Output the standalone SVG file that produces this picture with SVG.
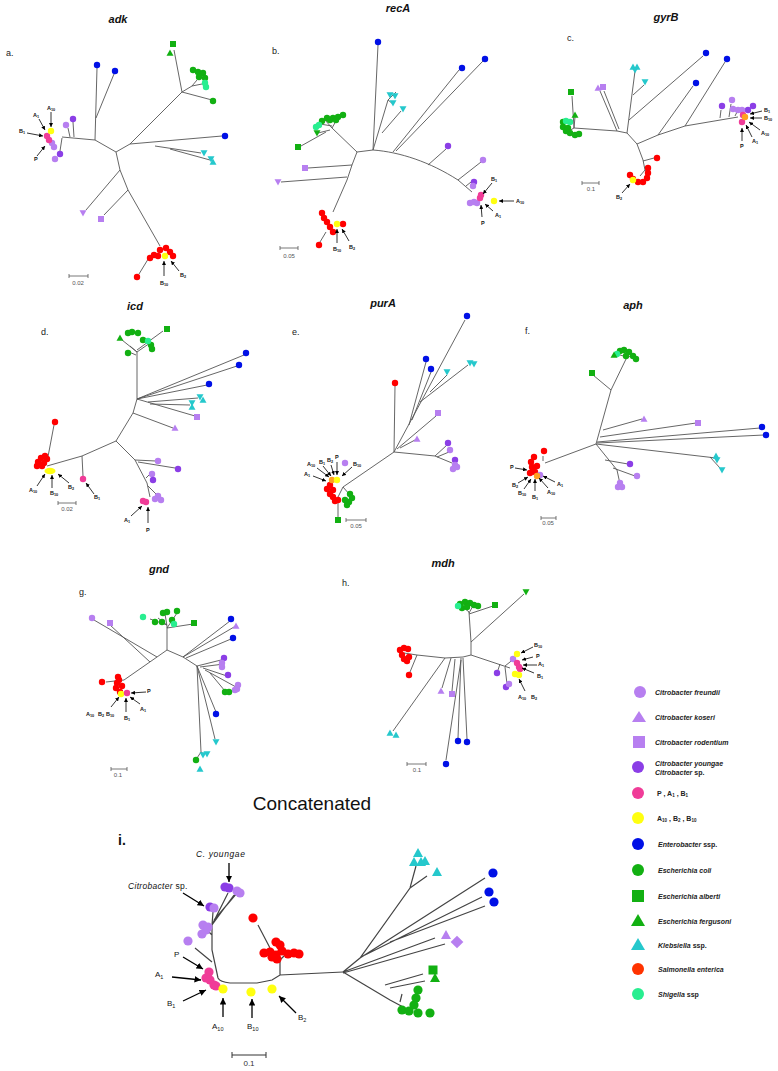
<svg xmlns="http://www.w3.org/2000/svg" width="778" height="1071" viewBox="0 0 778 1071">
<style>
text{font-family:"Liberation Sans",Arial,sans-serif;fill:#111}
.t{font-size:11px;font-weight:bold;font-style:italic;text-anchor:middle}
.pl{font-size:9px;fill:#222}
.l{font-size:5.5px;font-weight:bold}
.s{font-size:3.8px}
.sc{font-size:6px;fill:#555;text-anchor:middle}
.br{fill:none;stroke:#555;stroke-width:0.9}
.br2{fill:none;stroke:#444;stroke-width:1.2}
.ar{fill:none;stroke:#000;stroke-width:0.8;marker-end:url(#ah)}
.ar2{fill:none;stroke:#000;stroke-width:1.3;marker-end:url(#ah2)}
.bar{fill:none;stroke:#555;stroke-width:0.8}
.cf{fill:#b77ff0}.cy{fill:#8b3ee6}.pk{fill:#f03c98}.yl{fill:#ffff10}.en{fill:#0010e6}.ec{fill:#12b012}.kl{fill:#25c8cc}.sa{fill:#ff3300}.rd{fill:#ff0000}.sh{fill:#28ee90}.or{fill:#ffa020}
.lg{font-size:7px;font-weight:bold;font-style:italic;fill:#222}
.lgn{font-style:normal}
.il{font-size:8px}
.il .s{font-size:5.5px}
</style>
<defs>
<marker id="ah" viewBox="0 0 6 6" refX="6" refY="3" markerWidth="4" markerHeight="4" markerUnits="userSpaceOnUse" orient="auto"><path d="M0,0L6,3L0,6z" fill="#000"/></marker>
<marker id="ah2" viewBox="0 0 6 6" refX="6" refY="3" markerWidth="6.5" markerHeight="6.5" markerUnits="userSpaceOnUse" orient="auto"><path d="M0,0L6,3L0,6z" fill="#000"/></marker>
<circle id="o" r="3.2"/>
<circle id="O" r="4.6"/>
<path id="tr" d="M-3.5,2.8H3.5L0,-3.5z"/>
<path id="td" d="M-3.5,-2.8H3.5L0,3.5z"/>
<path id="TR" d="M-5,4H5L0,-5z"/>
<rect id="q" x="-3" y="-3" width="6" height="6"/>
<rect id="Q" x="-4.5" y="-4.5" width="9" height="9"/>
</defs>

<!-- Panel a -->
<g id="panel-a">
<text class="t" x="118" y="23">adk</text>
<text class="pl" x="6" y="56">a.</text>
<g id="a-branches" class="br">
<path d="M116,152L95,140L62,137M95,140L97,68M96,118L114,74M116,152L130,144L182,92L174,50M182,92L192,86L197,80M192,86L202,84M182,92L212,100M130,144L222,136M155,146L201,153M170,149L210,160M116,152L120,170L128,190L160,246M120,170L86,210M128,190L104,215M70,137L68,128M74,137L73,122M62,138L60,151M150,256L139,274"/>
</g>
<g id="a-tips">
<use href="#o" x="66" y="125" class="cf"/><use href="#o" x="55" y="159" class="cf"/><use href="#o" x="52" y="143" class="cf"/><use href="#o" x="54" y="147" class="cf"/>
<use href="#o" x="73" y="119" class="cy"/><use href="#o" x="60" y="154" class="cy"/>
<use href="#o" x="47" y="136" class="pk"/><use href="#o" x="49" y="140" class="pk"/><use href="#o" x="51" y="131" class="yl"/>
<use href="#o" x="97" y="65" class="en"/><use href="#o" x="115" y="71" class="en"/><use href="#o" x="225" y="136" class="en"/>
<use href="#o" x="193" y="70" class="ec"/><use href="#o" x="198" y="72" class="ec"/><use href="#o" x="203" y="73" class="ec"/><use href="#o" x="205" y="78" class="ec"/><use href="#o" x="199" y="77" class="ec"/><use href="#o" x="213" y="101" class="ec"/>
<use href="#o" x="206" y="87" class="sh"/><use href="#o" x="205" y="83" class="sh"/>
<use href="#q" x="173" y="44" class="ec"/><use href="#tr" x="170" y="53" class="ec"/>
<use href="#td" x="204" y="153" class="kl"/><use href="#tr" x="213" y="162" class="kl"/><use href="#td" x="211" y="159" class="kl"/>
<use href="#td" x="83" y="213" class="cf"/><use href="#q" x="101" y="219" class="cf"/>
<use href="#o" x="160" y="250" class="rd"/><use href="#o" x="154" y="255" class="rd"/><use href="#o" x="150" y="258" class="rd"/><use href="#o" x="166" y="248" class="rd"/><use href="#o" x="170" y="252" class="rd"/><use href="#o" x="173" y="256" class="rd"/><use href="#o" x="158" y="256" class="rd"/><use href="#o" x="137" y="277" class="rd"/>
<use href="#o" x="165" y="256" class="yl"/>
</g>
<g id="a-labels">
<text class="l" x="47" y="110">A<tspan class="s" dy="1.2">10</tspan></text>
<text class="l" x="33" y="117">A<tspan class="s" dy="1.2">1</tspan></text>
<text class="l" x="19" y="133">B<tspan class="s" dy="1.2">1</tspan></text>
<text class="l" x="34" y="161">P</text>
<text class="l" x="160" y="285">B<tspan class="s" dy="1.2">10</tspan></text>
<text class="l" x="180" y="277">B<tspan class="s" dy="1.2">2</tspan></text>
<path class="ar" d="M51,112L51,127"/><path class="ar" d="M39,119L45,130"/><path class="ar" d="M27,133L43,136"/><path class="ar" d="M37,156L45,146"/><path class="ar" d="M164,276L164,261"/><path class="ar" d="M179,271L171,261"/>
<path class="bar" d="M69,276H88M69,274V278M88,274V278"/>
<text class="sc" x="78" y="285">0.02</text>
</g>
</g>

<!-- Panel b -->
<g id="panel-b">
<text class="t" x="398" y="12">recA</text>
<text class="pl" x="272" y="54">b.</text>
<g id="b-branches" class="br">
<path d="M373,150L378,45M373,150L357,152L352,165L347,180L333,212M357,152L332,128M332,128L325,120M332,128L340,114M332,126L320,124M330,130L318,133M326,132L301,146M352,165L308,168M347,177L281,182M373,150L388,100L396,92M382,133L401,111M388,100L393,104M393,152L459,70M396,151L483,61M373,150C400,152 430,162 458,180L472,192M428,165L446,149M458,180L481,162M466,186L471,182M326,232L320,242"/>
</g>
<g id="b-tips">
<use href="#o" x="378" y="42" class="en"/><use href="#o" x="462" y="68" class="en"/><use href="#o" x="485" y="59" class="en"/>
<use href="#td" x="390" y="95" class="kl"/><use href="#td" x="395" y="96" class="kl"/><use href="#td" x="393" y="103" class="kl"/><use href="#td" x="403" y="109" class="kl"/>
<use href="#o" x="322" y="121" class="ec"/><use href="#o" x="327" y="118" class="ec"/><use href="#o" x="333" y="118" class="ec"/><use href="#o" x="338" y="117" class="ec"/><use href="#o" x="343" y="115" class="ec"/><use href="#o" x="330" y="120" class="ec"/><use href="#o" x="336" y="120" class="ec"/>
<use href="#o" x="319" y="125" class="sh"/><use href="#o" x="316" y="127" class="sh"/>
<use href="#td" x="317" y="133" class="ec"/><use href="#q" x="298" y="147" class="ec"/>
<use href="#q" x="305" y="168" class="cf"/><use href="#td" x="278" y="182" class="cf"/>
<use href="#o" x="448" y="146" class="cy"/><use href="#o" x="483" y="160" class="cf"/><use href="#o" x="474" y="182" class="cy"/><use href="#o" x="473" y="186" class="cf"/>
<use href="#o" x="470" y="203" class="cf"/><use href="#o" x="474" y="202" class="cf"/><use href="#o" x="477" y="203" class="cf"/>
<use href="#o" x="480" y="198" class="pk"/><use href="#o" x="481" y="195" class="pk"/><use href="#o" x="494" y="201" class="yl"/>
<use href="#o" x="322" y="213" class="rd"/><use href="#o" x="324" y="218" class="rd"/><use href="#o" x="327" y="222" class="rd"/><use href="#o" x="330" y="227" class="rd"/><use href="#o" x="333" y="232" class="rd"/><use href="#o" x="343" y="224" class="rd"/><use href="#o" x="319" y="245" class="rd"/>
<use href="#o" x="337" y="224" class="yl"/>
</g>
<g id="b-labels">
<text class="l" x="491" y="181">B<tspan class="s" dy="1.2">1</tspan></text>
<text class="l" x="516" y="203">A<tspan class="s" dy="1.2">10</tspan></text>
<text class="l" x="495" y="217">A<tspan class="s" dy="1.2">1</tspan></text>
<text class="l" x="481" y="225">P</text>
<text class="l" x="333" y="251">B<tspan class="s" dy="1.2">10</tspan></text>
<text class="l" x="349" y="249">B<tspan class="s" dy="1.2">2</tspan></text>
<path class="ar" d="M492,183L483,194"/><path class="ar" d="M514,201L499,201"/><path class="ar" d="M493,211L485,204"/><path class="ar" d="M482,217L481,205"/><path class="ar" d="M337,243L337,229"/><path class="ar" d="M349,241L342,229"/>
<path class="bar" d="M280,248H298M280,246V250M298,246V250"/>
<text class="sc" x="289" y="258">0.05</text>
</g>
</g>

<!-- Panel c -->
<g id="panel-c">
<text class="t" x="666" y="21">gyrB</text>
<text class="pl" x="567" y="41">c.</text>
<g id="c-branches" class="br">
<path d="M637,144L627,133L617,131L574,128M574,128L572,96M574,128L575,117M574,128L567,132M617,131L600,91M619,129L604,91M627,133L635,71M633,95L644,85M629,120L703,56M637,144L658,135L685,126L738,117M658,135L693,86M685,126L725,62M720,118L721,110M729,117L731,104M735,116L737,112M637,144L643,160L645,170M643,161L654,158M645,170L640,176M645,170L648,172"/>
</g>
<g id="c-tips">
<use href="#o" x="563" y="122" class="ec"/><use href="#o" x="563" y="127" class="ec"/><use href="#o" x="566" y="131" class="ec"/><use href="#o" x="570" y="133" class="ec"/><use href="#o" x="575" y="135" class="ec"/><use href="#o" x="579" y="134" class="ec"/><use href="#o" x="568" y="128" class="ec"/>
<use href="#o" x="570" y="122" class="sh"/><use href="#o" x="566" y="121" class="sh"/>
<use href="#tr" x="575" y="115" class="ec"/><use href="#q" x="571" y="92" class="ec"/>
<use href="#tr" x="598" y="88" class="cf"/><use href="#q" x="603" y="87" class="cf"/>
<use href="#tr" x="633" y="67" class="kl"/><use href="#tr" x="637" y="67" class="kl"/><use href="#td" x="635" y="70" class="kl"/><use href="#td" x="645" y="82" class="kl"/>
<use href="#o" x="706" y="53" class="en"/><use href="#o" x="696" y="83" class="en"/><use href="#o" x="727" y="59" class="en"/>
<use href="#o" x="722" y="106" class="cy"/><use href="#o" x="753" y="106" class="cy"/><use href="#o" x="748" y="110" class="cy"/>
<use href="#o" x="732" y="100" class="cf"/><use href="#o" x="733" y="109" class="cf"/><use href="#o" x="738" y="110" class="cf"/><use href="#o" x="742" y="110" class="cf"/>
<use href="#o" x="742" y="122" class="pk"/><use href="#o" x="743" y="115" class="pk"/><use href="#o" x="745" y="117" class="or"/>
<use href="#o" x="657" y="158" class="rd"/><use href="#o" x="630" y="175" class="rd"/><use href="#o" x="633" y="179" class="rd"/><use href="#o" x="638" y="182" class="rd"/><use href="#o" x="643" y="182" class="rd"/><use href="#o" x="647" y="178" class="rd"/><use href="#o" x="648" y="173" class="rd"/><use href="#o" x="648" y="168" class="rd"/>
<use href="#o" x="633" y="180" class="yl"/>
</g>
<g id="c-labels">
<text class="l" x="764" y="112">B<tspan class="s" dy="1.2">1</tspan></text>
<text class="l" x="764" y="120">B<tspan class="s" dy="1.2">10</tspan></text>
<text class="l" x="761" y="135">A<tspan class="s" dy="1.2">10</tspan></text>
<text class="l" x="752" y="143">A<tspan class="s" dy="1.2">1</tspan></text>
<text class="l" x="740" y="148">P</text>
<text class="l" x="616" y="199">B<tspan class="s" dy="1.2">2</tspan></text>
<path class="ar" d="M762,111L750,114"/><path class="ar" d="M762,118L750,118"/><path class="ar" d="M760,130L749,122"/><path class="ar" d="M752,137L746,125"/><path class="ar" d="M742,141L742,128"/><path class="ar" d="M622,193L630,184"/>
<path class="bar" d="M582,183H599M582,181V185M599,181V185"/>
<text class="sc" x="591" y="191">0.1</text>
</g>
</g>

<!-- Panel d -->
<g id="panel-d">
<text class="t" x="135" y="310">icd</text>
<text class="pl" x="41" y="335">d.</text>
<g id="d-branches" class="br">
<path d="M116,441L133,413L137,399L137,352M137,352L130,346M137,352L150,343M137,350L163,331M136,355L129,352M137,352L122,340M137,399L244,355M137,399L237,366M137,399L207,385M148,402L198,398M150,404L190,405M137,399L195,416M133,413L173,428M116,441L135,460L147,483L150,497M135,460L156,461M138,462L175,468M146,478L152,472M148,486L156,494M116,441L82,456L47,466M82,456L83,476M47,462L54,425"/>
</g>
<g id="d-tips">
<use href="#o" x="128" y="333" class="ec"/><use href="#o" x="132" y="332" class="ec"/><use href="#o" x="138" y="333" class="ec"/><use href="#o" x="143" y="340" class="ec"/><use href="#o" x="151" y="345" class="ec"/><use href="#o" x="152" y="349" class="ec"/><use href="#o" x="128" y="353" class="ec"/>
<use href="#tr" x="120" y="338" class="ec"/><use href="#q" x="167" y="329" class="ec"/><use href="#o" x="148" y="341" class="sh"/>
<use href="#o" x="246" y="353" class="en"/><use href="#o" x="239" y="365" class="en"/><use href="#o" x="209" y="384" class="en"/>
<use href="#td" x="200" y="397" class="kl"/><use href="#tr" x="203" y="400" class="kl"/><use href="#td" x="192" y="403" class="kl"/><use href="#tr" x="192" y="407" class="kl"/>
<use href="#q" x="197" y="417" class="cf"/><use href="#tr" x="175" y="428" class="cf"/>
<use href="#o" x="158" y="461" class="cf"/><use href="#o" x="152" y="474" class="cf"/><use href="#o" x="158" y="496" class="cf"/><use href="#o" x="161" y="500" class="cf"/><use href="#o" x="155" y="499" class="cf"/>
<use href="#o" x="178" y="469" class="cy"/><use href="#o" x="153" y="480" class="cy"/>
<use href="#o" x="146" y="502" class="pk"/><use href="#o" x="143" y="501" class="pk"/><use href="#o" x="83" y="479" class="pk"/>
<use href="#o" x="38" y="462" class="rd"/><use href="#o" x="41" y="458" class="rd"/><use href="#o" x="45" y="456" class="rd"/><use href="#o" x="47" y="459" class="rd"/><use href="#o" x="42" y="466" class="rd"/><use href="#o" x="37" y="466" class="rd"/><use href="#o" x="44" y="463" class="rd"/><use href="#o" x="55" y="422" class="rd"/>
<ellipse cx="50" cy="471" rx="5.5" ry="3.3" class="yl"/>
</g>
<g id="d-labels">
<text class="l" x="29" y="492">A<tspan class="s" dy="1.2">10</tspan></text>
<text class="l" x="50" y="495">B<tspan class="s" dy="1.2">10</tspan></text>
<text class="l" x="68" y="489">B<tspan class="s" dy="1.2">2</tspan></text>
<text class="l" x="94" y="499">B<tspan class="s" dy="1.2">1</tspan></text>
<text class="l" x="124" y="522">A<tspan class="s" dy="1.2">1</tspan></text>
<text class="l" x="146" y="532">P</text>
<path class="ar" d="M37,486L45,474"/><path class="ar" d="M52,488L52,475"/><path class="ar" d="M69,483L58,474"/><path class="ar" d="M94,494L86,483"/><path class="ar" d="M131,516L142,506"/><path class="ar" d="M148,523L148,507"/>
<path class="bar" d="M58,503H76M58,501V505M76,501V505"/>
<text class="sc" x="67" y="511">0.02</text>
</g>
</g>

<!-- Panel e -->
<g id="panel-e">
<text class="t" x="383" y="307">purA</text>
<text class="pl" x="292" y="335">e.</text>
<g id="e-branches" class="br">
<path d="M394,452L395,386M394,452L465,320M409,425L426,362M412,420L431,372M420,402L468,365M430,392L447,375M397,449L436,416M400,448L415,440M394,452L435,456L452,463M435,456L447,445M437,457L449,452M394,452L343,487M343,487L338,497M343,487L350,495M338,500L338,517"/>
</g>
<g id="e-tips">
<use href="#o" x="395" y="383" class="rd"/>
<use href="#o" x="467" y="316" class="en"/><use href="#o" x="426" y="359" class="en"/><use href="#o" x="431" y="369" class="en"/>
<use href="#td" x="470" y="363" class="kl"/><use href="#td" x="474" y="364" class="kl"/><use href="#td" x="447" y="372" class="kl"/>
<use href="#q" x="438" y="413" class="cf"/><use href="#tr" x="417" y="439" class="cf"/>
<use href="#o" x="448" y="443" class="cy"/><use href="#o" x="455" y="460" class="cy"/>
<use href="#o" x="450" y="450" class="cf"/><use href="#o" x="455" y="465" class="cf"/><use href="#o" x="453" y="469" class="cf"/><use href="#o" x="457" y="467" class="cf"/>
<use href="#o" x="330" y="485" class="rd"/><use href="#o" x="327" y="489" class="rd"/><use href="#o" x="330" y="494" class="rd"/><use href="#o" x="333" y="497" class="rd"/><use href="#o" x="335" y="501" class="rd"/><use href="#o" x="338" y="500" class="rd"/><use href="#o" x="333" y="490" class="rd"/>
<use href="#o" x="332" y="480" class="or"/><use href="#o" x="337" y="480" class="yl"/>
<use href="#o" x="350" y="494" class="ec"/><use href="#o" x="352" y="498" class="ec"/><use href="#o" x="349" y="502" class="ec"/><use href="#o" x="347" y="505" class="ec"/><use href="#o" x="345" y="500" class="ec"/>
<use href="#q" x="338" y="520" class="ec"/><use href="#o" x="345" y="463" class="cf"/>
</g>
<g id="e-labels">
<text class="l" x="304" y="476">A<tspan class="s" dy="1.2">1</tspan></text>
<text class="l" x="307" y="466">A<tspan class="s" dy="1.2">10</tspan></text>
<text class="l" x="319" y="464">B<tspan class="s" dy="1.2">1</tspan></text>
<text class="l" x="327" y="462">B<tspan class="s" dy="1.2">2</tspan></text>
<text class="l" x="335" y="459">P</text>
<text class="l" x="353" y="466">B<tspan class="s" dy="1.2">10</tspan></text>
<path class="ar" d="M313,476L326,481"/><path class="ar" d="M317,468L329,477"/><path class="ar" d="M323,466L331,476"/><path class="ar" d="M331,465L334,475"/><path class="ar" d="M337,462L337,475"/><path class="ar" d="M352,467L342,476"/>
<path class="bar" d="M346,520H366M346,518V522M366,518V522"/>
<text class="sc" x="356" y="528">0.05</text>
</g>
</g>

<!-- Panel f -->
<g id="panel-f">
<text class="t" x="633" y="309">aph</text>
<text class="pl" x="525" y="334">f.</text>
<g id="f-branches" class="br">
<path d="M596,444L611,390L627,357M611,390L593,375M627,357L620,355M627,357L633,356M603,430L642,419M600,437L696,423M597,442L760,428M597,443L764,435M596,444L716,458M710,457L720,468M596,444L617,470L620,484M605,460L628,464M613,468L635,476M596,444L545,463M543,456L543,461"/>
</g>
<g id="f-tips">
<use href="#o" x="620" y="351" class="ec"/><use href="#o" x="624" y="350" class="ec"/><use href="#o" x="629" y="352" class="ec"/><use href="#o" x="633" y="356" class="ec"/><use href="#o" x="636" y="359" class="ec"/><use href="#o" x="626" y="356" class="ec"/>
<use href="#o" x="617" y="354" class="sh"/><use href="#tr" x="614" y="355" class="ec"/><use href="#q" x="592" y="373" class="ec"/>
<use href="#tr" x="644" y="419" class="cf"/><use href="#q" x="698" y="423" class="cf"/>
<use href="#o" x="762" y="427" class="en"/><use href="#o" x="766" y="435" class="en"/>
<use href="#tr" x="716" y="456" class="kl"/><use href="#td" x="717" y="460" class="kl"/><use href="#td" x="722" y="470" class="kl"/>
<use href="#o" x="630" y="464" class="cy"/><use href="#o" x="637" y="476" class="cf"/><use href="#o" x="618" y="487" class="cf"/><use href="#o" x="622" y="487" class="cf"/><use href="#o" x="620" y="483" class="cf"/>
<use href="#o" x="534" y="457" class="rd"/><use href="#o" x="531" y="462" class="rd"/><use href="#o" x="532" y="467" class="rd"/><use href="#o" x="535" y="472" class="rd"/><use href="#o" x="537" y="466" class="rd"/><use href="#o" x="530" y="473" class="rd"/><use href="#o" x="533" y="470" class="rd"/><use href="#o" x="544" y="451" class="rd"/>
<use href="#o" x="540" y="475" class="cf"/><use href="#o" x="537" y="476" class="or"/>
</g>
<g id="f-labels">
<text class="l" x="510" y="469">P</text>
<text class="l" x="512" y="487">B<tspan class="s" dy="1.2">2</tspan></text>
<text class="l" x="518" y="495">B<tspan class="s" dy="1.2">10</tspan></text>
<text class="l" x="532" y="499">B<tspan class="s" dy="1.2">1</tspan></text>
<text class="l" x="547" y="494">A<tspan class="s" dy="1.2">10</tspan></text>
<text class="l" x="557" y="486">A<tspan class="s" dy="1.2">1</tspan></text>
<path class="ar" d="M515,468L527,470"/><path class="ar" d="M518,483L528,477"/><path class="ar" d="M524,489L531,479"/><path class="ar" d="M535,491L535,479"/><path class="ar" d="M548,488L539,478"/><path class="ar" d="M555,482L543,476"/>
<path class="bar" d="M541,518H556M541,516V520M556,516V520"/>
<text class="sc" x="548" y="525">0.05</text>
</g>
</g>

<!-- Panel g -->
<g id="panel-g">
<text class="t" x="159" y="573">gnd</text>
<text class="pl" x="79" y="595">g.</text>
<g id="g-branches" class="br">
<path d="M167,650L167,626M167,628L177,613M167,625L158,618M167,625L150,619M167,628L193,624M167,626L165,614M167,650L157,657L124,680M157,657L94,620M150,662L110,625M124,680L106,682M167,650L183,657L230,621M183,657L234,627M186,658L231,639M183,657L197,666L225,659M200,667L224,664M203,668L227,676M205,670L236,687M210,673L225,691M197,666L216,712M197,666L215,739M197,666L201,752M201,752L205,755M201,752L197,758"/>
</g>
<g id="g-tips">
<use href="#o" x="167" y="612" class="ec"/><use href="#o" x="177" y="611" class="ec"/><use href="#o" x="163" y="613" class="ec"/><use href="#o" x="155" y="622" class="ec"/><use href="#o" x="162" y="622" class="ec"/><use href="#o" x="172" y="620" class="ec"/>
<use href="#o" x="143" y="617" class="sh"/><use href="#o" x="174" y="624" class="sh"/><use href="#q" x="194" y="623" class="ec"/>
<use href="#o" x="92" y="618" class="cf"/><use href="#q" x="110" y="623" class="cf"/>
<use href="#o" x="118" y="677" class="rd"/><use href="#o" x="117" y="683" class="rd"/><use href="#o" x="116" y="688" class="rd"/><use href="#o" x="120" y="692" class="rd"/><use href="#o" x="119" y="680" class="rd"/><use href="#o" x="122" y="686" class="rd"/><use href="#o" x="102" y="682" class="rd"/>
<use href="#o" x="121" y="694" class="yl"/><use href="#o" x="127" y="693" class="pk"/>
<use href="#o" x="231" y="619" class="en"/><use href="#o" x="233" y="638" class="en"/><use href="#o" x="216" y="714" class="en"/><use href="#tr" x="236" y="626" class="cf"/>
<use href="#o" x="224" y="658" class="cy"/><use href="#o" x="228" y="675" class="cy"/>
<use href="#o" x="222" y="663" class="cf"/><use href="#o" x="222" y="667" class="cf"/><use href="#o" x="238" y="685" class="cf"/><use href="#o" x="237" y="689" class="cf"/><use href="#o" x="235" y="690" class="cf"/>
<use href="#o" x="225" y="692" class="ec"/><use href="#o" x="229" y="692" class="ec"/>
<use href="#td" x="216" y="742" class="kl"/><use href="#td" x="203" y="755" class="kl"/><use href="#td" x="207" y="754" class="kl"/><use href="#tr" x="200" y="769" class="kl"/><use href="#o" x="196" y="760" class="ec"/>
</g>
<g id="g-labels">
<text class="l" x="147" y="693">P</text>
<text class="l" x="140" y="711">A<tspan class="s" dy="1.2">1</tspan></text>
<text class="l" x="124" y="720">B<tspan class="s" dy="1.2">1</tspan></text>
<text class="l" x="86" y="716">A<tspan class="s" dy="1.2">10</tspan></text>
<text class="l" x="98" y="716">B<tspan class="s" dy="1.2">2</tspan></text>
<text class="l" x="106" y="716">B<tspan class="s" dy="1.2">10</tspan></text>
<path class="ar" d="M146,692L131,693"/><path class="ar" d="M140,704L130,697"/><path class="ar" d="M126,712L126,698"/><path class="ar" d="M111,707L119,697"/>
<path class="bar" d="M111,769H127M111,767V771M127,767V771"/>
<text class="sc" x="118" y="777">0.1</text>
</g>
</g>

<!-- Panel h -->
<g id="panel-h">
<text class="t" x="443" y="567">mdh</text>
<text class="pl" x="342" y="586">h.</text>
<g id="h-branches" class="br">
<path d="M471,655L471,642L469,612M469,612L463,607M469,613L473,606M469,614L493,606M471,642L524,594M471,655L510,668M505,666L515,658M500,664L498,670M505,667L507,684M471,655L463,657L445,658L417,655L404,653M417,655L410,672M445,658L393,731M451,658L442,688M455,659L452,691M461,658L458,738M463,658L467,739M461,660L446,760"/>
</g>
<g id="h-tips">
<use href="#o" x="460" y="604" class="ec"/><use href="#o" x="465" y="602" class="ec"/><use href="#o" x="470" y="603" class="ec"/><use href="#o" x="474" y="605" class="ec"/><use href="#o" x="478" y="606" class="ec"/><use href="#o" x="462" y="608" class="ec"/><use href="#o" x="467" y="607" class="ec"/>
<use href="#o" x="458" y="606" class="sh"/><use href="#q" x="495" y="605" class="ec"/><use href="#td" x="526" y="592" class="ec"/>
<use href="#o" x="400" y="650" class="rd"/><use href="#o" x="404" y="648" class="rd"/><use href="#o" x="408" y="649" class="rd"/><use href="#o" x="402" y="655" class="rd"/><use href="#o" x="404" y="659" class="rd"/><use href="#o" x="407" y="661" class="rd"/><use href="#o" x="409" y="657" class="rd"/><use href="#o" x="409" y="675" class="rd"/>
<use href="#o" x="513" y="659" class="cf"/><use href="#o" x="517" y="654" class="yl"/>
<use href="#o" x="517" y="663" class="pk"/><use href="#o" x="519" y="667" class="pk"/><use href="#o" x="520" y="669" class="pk"/>
<use href="#o" x="515" y="674" class="yl"/><use href="#o" x="519" y="675" class="yl"/>
<use href="#o" x="497" y="673" class="cy"/><use href="#o" x="506" y="687" class="cy"/><use href="#o" x="509" y="684" class="cf"/>
<use href="#tr" x="441" y="691" class="cf"/><use href="#q" x="452" y="694" class="cf"/>
<use href="#tr" x="390" y="733" class="kl"/><use href="#tr" x="396" y="735" class="kl"/>
<use href="#o" x="458" y="741" class="en"/><use href="#o" x="467" y="742" class="en"/><use href="#o" x="446" y="764" class="en"/>
</g>
<g id="h-labels">
<text class="l" x="534" y="647">B<tspan class="s" dy="1.2">10</tspan></text>
<text class="l" x="536" y="658">P</text>
<text class="l" x="538" y="666">A<tspan class="s" dy="1.2">1</tspan></text>
<text class="l" x="537" y="678">B<tspan class="s" dy="1.2">1</tspan></text>
<text class="l" x="518" y="699">A<tspan class="s" dy="1.2">10</tspan></text>
<text class="l" x="531" y="699">B<tspan class="s" dy="1.2">2</tspan></text>
<path class="ar" d="M533,647L521,653"/><path class="ar" d="M533,657L522,660"/><path class="ar" d="M537,665L523,665"/><path class="ar" d="M534,673L522,668"/><path class="ar" d="M525,691L519,679"/>
<path class="bar" d="M407,764H426M407,762V766M426,762V766"/>
<text class="sc" x="417" y="772">0.1</text>
</g>
</g>

<!-- Panel i -->
<g id="panel-i">
<text x="312" y="810" style="font-size:19px;text-anchor:middle">Concatenated</text>
<text x="118" y="845" style="font-size:14px;font-weight:bold">i.</text>
<g id="i-branches" class="br2">
<path d="M343,972L280,975L272,980L257,983L230,983Q220,982 218,978L212,950L212,925L228,893M212,925L234,895M214,920L237,893M212,925L213,912M212,935L207,930M212,962L195,948M280,975L280,960M280,960L276,956M280,960L284,956M270,948L258,925"/>
<path d="M343,972L360,958L410,888L416,866M410,888L427,876M360,958L485,878M365,955L482,897M390,942L485,906M343,972L435,938M343,973L445,944M343,972L390,1000L405,1008M385,985L423,974M390,988L425,981M400,1002L402,994"/>
</g>
<g id="i-tips">
<use href="#O" x="225" y="887" class="cy"/><use href="#O" x="229" y="888" class="cy"/><use href="#O" x="237" y="891" class="cf"/><use href="#O" x="240" y="893" class="cf"/>
<use href="#O" x="210" y="907" class="cy"/><use href="#O" x="214" y="908" class="cf"/>
<use href="#O" x="203" y="925" class="cf"/><use href="#O" x="206" y="930" class="cf"/><use href="#O" x="202" y="934" class="cf"/><use href="#O" x="208" y="927" class="cf"/><use href="#O" x="188" y="941" class="cf"/>
<use href="#O" x="209" y="972" class="pk"/><use href="#O" x="206" y="978" class="pk"/><use href="#O" x="210" y="980" class="pk"/><use href="#O" x="214" y="985" class="pk"/><use href="#O" x="216" y="986" class="pk"/>
<use href="#O" x="223" y="989" class="yl"/><use href="#O" x="251" y="992" class="yl"/><use href="#O" x="272" y="989" class="yl"/>
<use href="#O" x="253" y="918" class="rd"/>
<use href="#O" x="264" y="953" class="rd"/><use href="#O" x="270" y="952" class="rd"/><use href="#O" x="276" y="955" class="rd"/><use href="#O" x="282" y="951" class="rd"/><use href="#O" x="288" y="954" class="rd"/><use href="#O" x="294" y="953" class="rd"/><use href="#O" x="299" y="954" class="rd"/><use href="#O" x="272" y="957" class="rd"/><use href="#O" x="277" y="959" class="rd"/><use href="#O" x="280" y="945" class="rd"/><use href="#O" x="276" y="942" class="rd"/>
<use href="#TR" x="418" y="853" class="kl"/><use href="#TR" x="414" y="862" class="kl"/><use href="#TR" x="421" y="862" class="kl"/><use href="#TR" x="425" y="861" class="kl"/><use href="#TR" x="437" y="872" class="kl"/>
<use href="#O" x="493" y="873" class="en"/><use href="#O" x="489" y="892" class="en"/><use href="#O" x="494" y="902" class="en"/>
<use href="#TR" x="446" y="935" class="cf"/><use href="#Q" x="457" y="942" class="cf" transform="rotate(45 457 942)"/>
<use href="#Q" x="433" y="970" class="ec"/><use href="#TR" x="435" y="978" class="ec"/>
<use href="#O" x="418" y="990" class="ec"/><use href="#O" x="416" y="998" class="ec"/><use href="#O" x="414" y="1005" class="ec"/><use href="#O" x="402" y="1010" class="ec"/><use href="#O" x="409" y="1011" class="ec"/><use href="#O" x="418" y="1013" class="ec"/><use href="#O" x="430" y="1013" class="ec"/>
</g>
<g id="i-labels">
<text x="196" y="857" style="font-size:8.5px;font-style:italic;letter-spacing:0.6px">C.  youngae</text>
<text x="128" y="889" style="font-size:8.5px;letter-spacing:0.3px"><tspan font-style="italic">Citrobacter</tspan> sp.</text>
<text class="il" x="174" y="957">P</text>
<text class="il" x="155" y="977">A<tspan class="s" dy="1.5">1</tspan></text>
<text class="il" x="167" y="1006">B<tspan class="s" dy="1.5">1</tspan></text>
<text class="il" x="212" y="1029">A<tspan class="s" dy="1.5">10</tspan></text>
<text class="il" x="247" y="1029">B<tspan class="s" dy="1.5">10</tspan></text>
<text class="il" x="298" y="1020">B<tspan class="s" dy="1.5">2</tspan></text>
<path class="ar2" d="M229,863L229,882"/><path class="ar2" d="M183,893L204,906"/><path class="ar2" d="M183,957L203,969"/><path class="ar2" d="M172,977L201,980"/><path class="ar2" d="M183,1001L206,990"/><path class="ar2" d="M223,1017L223,998"/><path class="ar2" d="M252,1018L252,999"/><path class="ar2" d="M296,1013L279,996"/>
<path class="bar" d="M232,1055H266M232,1052V1058M266,1052V1058" style="stroke:#333;stroke-width:1"/>
<text x="249" y="1066" style="font-size:8px;fill:#333;text-anchor:middle">0.1</text>
</g>
</g>

<!-- Legend -->
<g id="legend">
<circle cx="640" cy="692" r="6" class="cf"/><text class="lg" x="655" y="694.5">Citrobacter  freundii</text>
<path d="M632,722H646L639,711z" class="cf"/><text class="lg" x="655" y="720">Citrobacter  koseri</text>
<rect x="633" y="736" width="12" height="12" class="cf"/><text class="lg" x="655" y="745">Citrobacter  rodentium</text>
<circle cx="638" cy="767" r="6" class="cy"/><text class="lg" x="655" y="766">Citrobacter  youngae</text><text class="lg" x="655" y="774.5">Citrobacter<tspan class="lgn"> sp.</tspan></text>
<circle cx="638" cy="793" r="6" class="pk"/><text class="lg lgn" x="657" y="796">P ,  A<tspan font-size="4.5" dy="1.2">1</tspan><tspan dy="-1.2"> ,  B</tspan><tspan font-size="4.5" dy="1.2">1</tspan></text>
<circle cx="638" cy="818" r="6" class="yl"/><text class="lg lgn" x="657" y="821">A<tspan font-size="4.5" dy="1.2">10</tspan><tspan dy="-1.2"> ,  B</tspan><tspan font-size="4.5" dy="1.2">2</tspan><tspan dy="-1.2"> , B</tspan><tspan font-size="4.5" dy="1.2">10</tspan></text>
<circle cx="638" cy="844" r="6" class="en"/><text class="lg" x="658" y="847">Enterobacter<tspan class="lgn"> ssp.</tspan></text>
<circle cx="638" cy="870" r="6" class="ec"/><text class="lg" x="658" y="873">Escherichia coli</text>
<rect x="632" y="890" width="12" height="12" class="ec"/><text class="lg" x="658" y="899">Escherichia alberti</text>
<path d="M631,926H645L638,914z" class="ec"/><text class="lg" x="658" y="924">Escherichia fergusoni</text>
<path d="M631,950H645L638,938z" class="kl"/><text class="lg" x="658" y="948">Klebsiella<tspan class="lgn"> ssp.</tspan></text>
<circle cx="638" cy="969" r="6" class="sa"/><text class="lg" x="658" y="972">Salmonella enterica</text>
<circle cx="638" cy="994" r="6" class="sh"/><text class="lg" x="658" y="997">Shigella<tspan class="lgn"> ssp</tspan></text>
</g>
</svg>
